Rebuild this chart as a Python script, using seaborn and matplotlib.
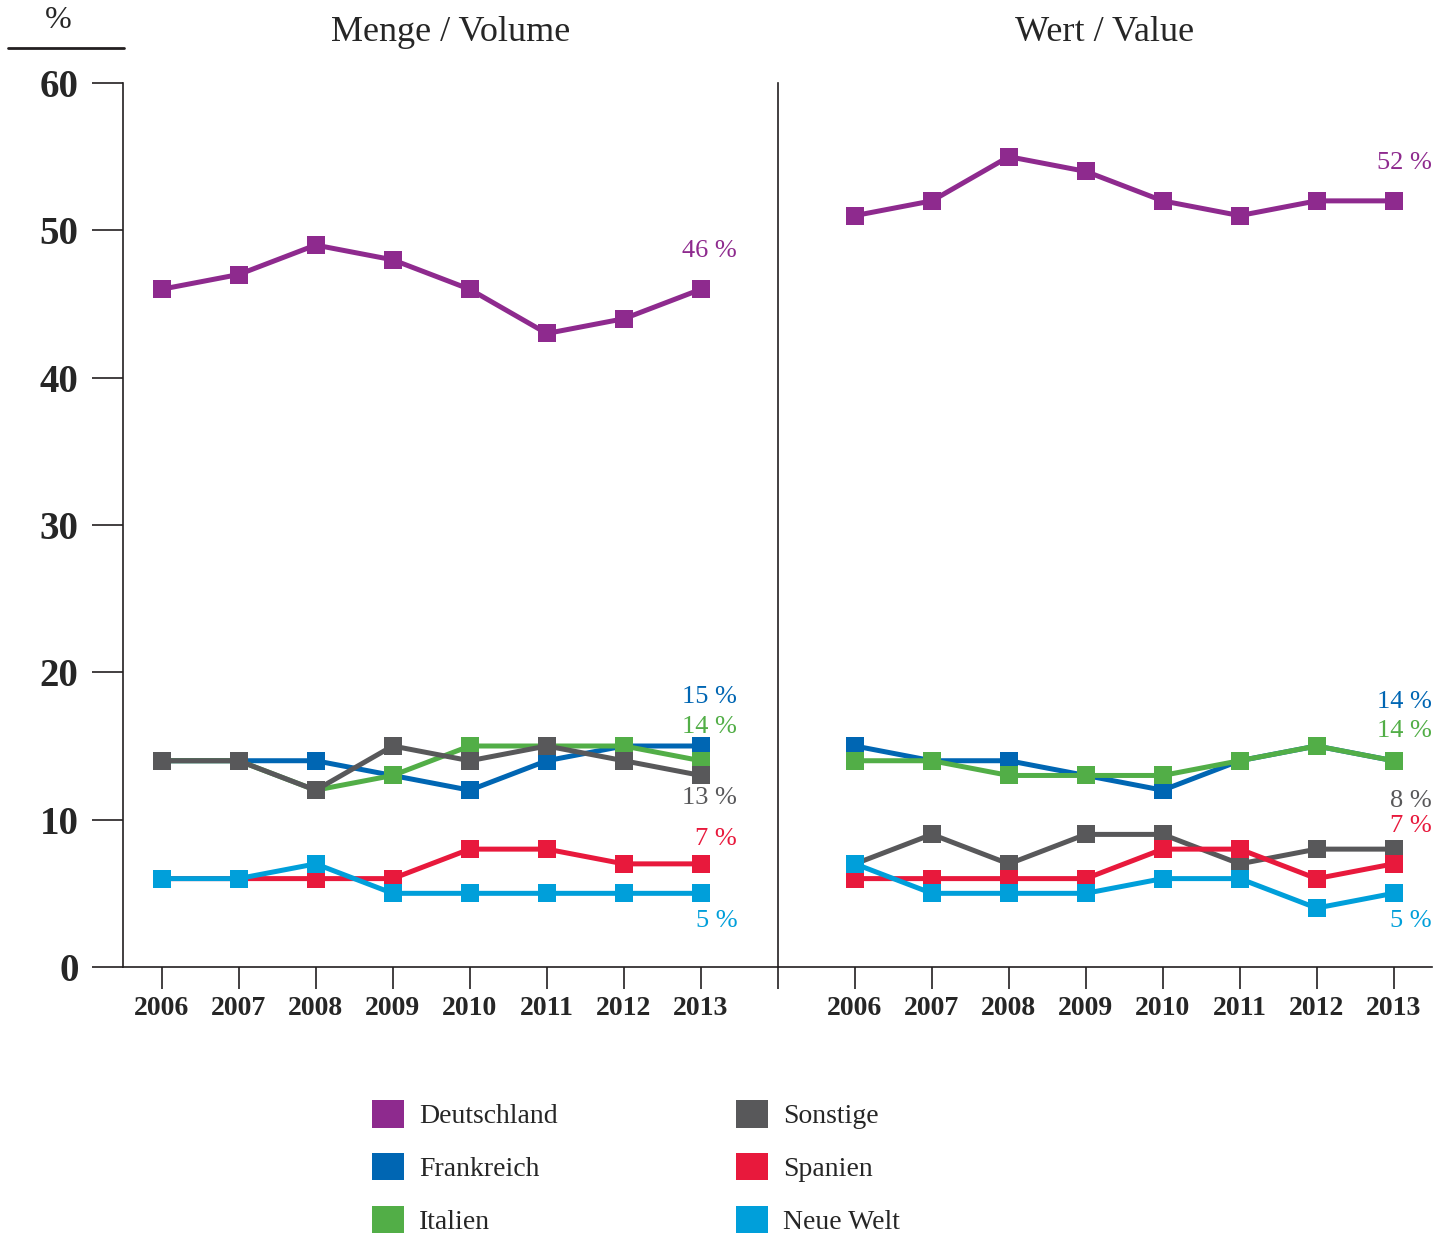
import seaborn as sns
import matplotlib.pyplot as plt
import pandas as pd
from matplotlib.patches import Patch
from matplotlib.lines import Line2D

jahre = [2006, 2007, 2008, 2009, 2010, 2011, 2012, 2013]
laender = ["Deutschland", "Frankreich", "Italien", "Sonstige", "Spanien", "Neue Welt"]
farben = {"Deutschland": "#8E2A8E", "Frankreich": "#0066B3", "Italien": "#52AE47",
          "Sonstige": "#58585A", "Spanien": "#E8193C", "Neue Welt": "#009FDA"}

# Menge / Volume
menge = {
    "Deutschland": [46, 47, 49, 48, 46, 43, 44, 46],
    "Frankreich": [14, 14, 14, 13, 12, 14, 15, 15],
    "Italien": [14, 14, 12, 13, 15, 15, 15, 14],
    "Sonstige": [14, 14, 12, 15, 14, 15, 14, 13],
    "Spanien": [6, 6, 6, 6, 8, 8, 7, 7],
    "Neue Welt": [6, 6, 7, 5, 5, 5, 5, 5],
}
# Wert / Value
wert = {
    "Deutschland": [51, 52, 55, 54, 52, 51, 52, 52],
    "Frankreich": [15, 14, 14, 13, 12, 14, 15, 14],
    "Italien": [14, 14, 13, 13, 13, 14, 15, 14],
    "Sonstige": [7, 9, 7, 9, 9, 7, 8, 8],
    "Spanien": [6, 6, 6, 6, 8, 8, 6, 7],
    "Neue Welt": [7, 5, 5, 5, 6, 6, 4, 5],
}
# height of end labels (data units)
label_y_menge = {"Deutschland": 48.6, "Frankreich": 18.3, "Italien": 16.3,
                 "Sonstige": 11.5, "Spanien": 8.7, "Neue Welt": 3.1}
label_y_wert = {"Deutschland": 54.6, "Frankreich": 18.0, "Italien": 16.0,
                "Sonstige": 11.3, "Spanien": 9.6, "Neue Welt": 3.1}

sns.set_style("white")
plt.rcParams["font.family"] = ["Liberation Serif", "DejaVu Serif"]

def to_long(d):
    rows = []
    for land in laender:
        for j, v in zip(jahre, d[land]):
            rows.append((j, land, v))
    return pd.DataFrame(rows, columns=["Jahr", "Land", "Anteil"])

fig = plt.figure(figsize=(14.53, 12.36), dpi=100)
W, H = 1453, 1236
ax1 = fig.add_axes([123 / W, 1 - 967 / H, (778 - 123) / W, (967 - 83) / H])
ax2 = fig.add_axes([778 / W, 1 - 967 / H, (1432 - 778) / W, (967 - 83) / H])

panels = [(ax1, menge, label_y_menge, "Menge / Volume", (2005.5, 2014), 2013.47),
          (ax2, wert, label_y_wert, "Wert / Value", (2005, 2013.5), 2013.5)]

for ax, daten, laby, titel, xl, xlab in panels:
    df = to_long(daten)
    sns.lineplot(data=df, x="Jahr", y="Anteil", hue="Land", hue_order=laender,
                 palette=farben, marker="s", markersize=13, markeredgewidth=0,
                 linewidth=3.6, legend=False, ax=ax)
    for land in laender:
        ax.text(xlab, laby[land], f"{daten[land][-1]} %", color=farben[land],
                fontsize=19, ha="right", va="center")
    ax.set_xlim(*xl)
    ax.set_ylim(0, 60)
    ax.set_xlabel("")
    ax.set_ylabel("")
    ax.set_title(titel, fontsize=26, pad=30)
    for s in ["top", "right"]:
        ax.spines[s].set_visible(False)
    for s in ["left", "bottom"]:
        ax.spines[s].set_linewidth(1.2)
        ax.spines[s].set_color("#231F20")
    ax.set_facecolor("none")

ax1.set_xticks(jahre + [2014])
ax1.set_xticklabels([str(j) for j in jahre] + [""])
ax2.set_xticks(jahre)
ax2.set_xticklabels([str(j) for j in jahre])
ax1.set_yticks(range(0, 61, 10))
ax2.set_yticks([])
for ax in (ax1, ax2):
    ax.tick_params(axis="x", direction="out", length=16, width=1.2, color="#231F20",
                   labelsize=20, pad=5, bottom=True)
    for t in ax.get_xticklabels():
        t.set_fontweight("bold")
ax1.tick_params(axis="y", direction="out", length=22, width=1.2, color="#231F20",
                labelsize=28, pad=10, left=True)
for t in ax1.get_yticklabels():
    t.set_fontweight("bold")

# % unit label
fig.text(58 / W, 1 - 20 / H, "%", fontsize=23, ha="center", va="center")
fig.add_artist(Line2D([8 / W, 124 / W], [1 - 48 / H, 1 - 48 / H], color="#231F20",
                      linewidth=2, transform=fig.transFigure))

handles = [Patch(facecolor=farben[l], edgecolor="none") for l in laender]
fig.legend(handles, laender, ncol=2, loc="upper left",
           bbox_to_anchor=(347 / W, 1 - 1075 / H), frameon=False, fontsize=20,
           handlelength=1.15, handleheight=1.15, handletextpad=0.55,
           labelspacing=0.85, columnspacing=6.4)

fig.savefig("out.png", dpi=100)
